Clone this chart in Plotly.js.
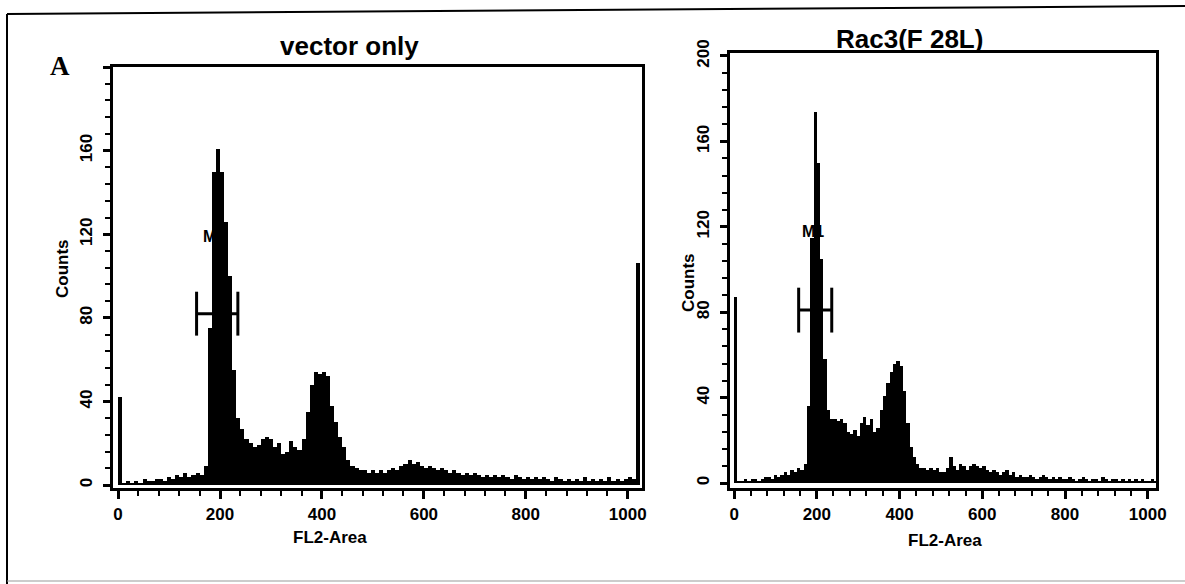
<!DOCTYPE html>
<html>
<head>
<meta charset="utf-8">
<script src="https://cdn.plot.ly/plotly-3.0.1.min.js"></script>
<style>html,body{margin:0;padding:0;background:#fff;}#chart{width:1185px;height:584px;}</style>
</head>
<body>
<div id="chart"></div>
<script>
// FL2-Area channel histograms, 8-channel bins (bin i covers channels 8i..8i+7)
const binWidth = 8;
const vectorOnlyCounts = [
  42, 1, 2, 1, 2, 1, 3, 2, 2, 3, 3, 2, 4, 3, 5, 4, 6, 4, 5, 6,
  5, 9, 75, 150, 161, 150, 126, 100, 55, 32, 27, 22, 20, 18, 19, 22,
  23, 22, 18, 20, 15, 16, 21, 18, 17, 22, 35, 48, 54, 53, 54, 52,
  38, 30, 23, 18, 12, 9, 8, 7, 7, 6, 7, 6, 7, 6, 7, 8, 7, 9,
  10, 12, 10, 11, 9, 8, 9, 8, 7, 8, 7, 6, 7, 6, 5, 6, 5, 6,
  5, 4, 5, 4, 5, 4, 5, 4, 3, 5, 4, 3, 4, 3, 4, 3, 4, 3, 2, 4,
  3, 2, 3, 2, 3, 2, 4, 2, 3, 2, 3, 2, 4, 2, 3, 2, 3, 4, 3, 106
];
const rac3Counts = [
  87, 1, 1, 2, 1, 2, 2, 1, 2, 3, 3, 2, 4, 3, 4, 5, 4, 6, 5, 7,
  6, 9, 36, 115, 174, 150, 105, 58, 34, 30, 30, 29, 30, 28, 24, 23,
  25, 22, 28, 31, 27, 30, 24, 26, 34, 41, 47, 52, 56, 57, 55, 43,
  28, 17, 12, 9, 7, 7, 6, 7, 6, 7, 5, 5, 7, 12, 8, 6, 9, 8,
  6, 8, 9, 8, 7, 8, 6, 5, 6, 5, 4, 5, 6, 4, 5, 3, 4, 3,
  3, 4, 3, 2, 3, 4, 3, 2, 3, 2, 3, 2, 2, 3, 2, 1, 2, 3, 2, 1,
  2, 2, 1, 3, 2, 1, 2, 2, 1, 2, 1, 2, 1, 2, 1, 2, 1, 1, 2, 1
];
const panelTitles = ["vector only", "Rac3(F 28L)"];
const xTickVals = [0, 200, 400, 600, 800, 1000];
const leftYTickVals = [0, 40, 80, 120, 160, 200];
const leftYTickText = ["0", "40", "80", "120", "160", ""];
const rightYTickVals = [0, 40, 80, 120, 160, 200];
const xLabel = "FL2-Area";
const yLabel = "Counts";
const markerLabel = "M1";
const vectorMarkerRange = [154, 235];
const vectorMarkerLevel = 82;
const rac3MarkerRange = [156, 236];
const rac3MarkerLevel = 81;

const W = 1185, H = 584;
const px = v => v / W;
const py = v => 1 - v / H;

const binCenters = arr => arr.map((_, i) => i * binWidth + binWidth / 2);

const traces = [
  {type: 'bar', x: binCenters(vectorOnlyCounts), y: vectorOnlyCounts, width: binWidth,
   marker: {color: '#000', line: {width: 0}}, xaxis: 'x', yaxis: 'y', hoverinfo: 'skip'},
  {type: 'bar', x: binCenters(rac3Counts), y: rac3Counts, width: binWidth,
   marker: {color: '#000', line: {width: 0}}, xaxis: 'x2', yaxis: 'y2', hoverinfo: 'skip'}
];

const tickFont = {family: 'Liberation Sans, Arial, sans-serif', size: 17, color: '#000', weight: 'bold'};
const xAxisBase = {
  tickmode: 'array', tickvals: xTickVals, ticks: 'outside', ticklen: 8, tickwidth: 3, tickcolor: '#000',
  showline: true, linewidth: 3, linecolor: '#000', mirror: true, showgrid: false, zeroline: false,
  tickfont: tickFont, ticklabelstandoff: 1,
  minor: {dtick: 40, tick0: 0, ticks: 'outside', ticklen: 5, tickwidth: 2, tickcolor: '#000', showgrid: false}
};
const yAxisBase = {
  ticks: 'outside', ticklen: 7, tickwidth: 3, tickcolor: '#000', tickangle: -90,
  showline: true, linewidth: 3, linecolor: '#000', mirror: true, showgrid: false, zeroline: false,
  tickfont: tickFont, ticklabelstandoff: 4,
  minor: {dtick: 8, tick0: 0, ticks: 'outside', ticklen: 5, tickwidth: 2, tickcolor: '#000', showgrid: false}
};

function markerShapes(xr, yr, lvl, range) {
  const s = {xref: xr, yref: yr, type: 'line', line: {color: '#000', width: 3}};
  return [
    Object.assign({}, s, {x0: range[0], x1: range[1], y0: lvl, y1: lvl}),
    Object.assign({}, s, {x0: range[0], x1: range[0], y0: lvl - 10.5, y1: lvl + 10.5}),
    Object.assign({}, s, {x0: range[1], x1: range[1], y0: lvl - 10.5, y1: lvl + 10.5})
  ];
}

const fam = 'Liberation Sans, Arial, sans-serif';
const labelFont = {family: fam, size: 17, color: '#000', weight: 'bold'};
const titleFont = {family: fam, size: 26, color: '#000', weight: 'bold'};
const m1Font = {family: fam, size: 16, color: '#000', weight: 'bold'};
const ann = (o) => Object.assign({showarrow: false, xanchor: 'center', yanchor: 'middle'}, o);

const layout = {
  width: W, height: H, margin: {l: 0, r: 0, t: 0, b: 0},
  paper_bgcolor: '#fff', plot_bgcolor: '#fff', showlegend: false, bargap: 0,
  xaxis: Object.assign({}, xAxisBase, {domain: [px(113), px(642)], range: [-10, 1028], anchor: 'y'}),
  yaxis: Object.assign({}, yAxisBase, {domain: [py(488), py(67)], range: [-1.4, 200], anchor: 'x',
    tickmode: 'array', tickvals: leftYTickVals, ticktext: leftYTickText}),
  xaxis2: Object.assign({}, xAxisBase, {domain: [px(730), px(1156)], range: [-10, 1020], anchor: 'y2'}),
  yaxis2: Object.assign({}, yAxisBase, {domain: [py(488), py(53)], range: [-2.3, 201.4], anchor: 'x2',
    tickmode: 'array', tickvals: rightYTickVals}),
  shapes: [
    {type: 'line', xref: 'paper', yref: 'paper', x0: px(7), x1: px(7), y0: py(14), y1: py(584), line: {color: '#000', width: 2}},
    {type: 'line', xref: 'paper', yref: 'paper', x0: px(7), x1: px(1185), y0: py(14), y1: py(6), line: {color: '#000', width: 2}},
    {type: 'line', xref: 'paper', yref: 'paper', x0: px(7), x1: px(1185), y0: py(581), y1: py(581), line: {color: '#999', width: 1}}
  ].concat(markerShapes('x', 'y', vectorMarkerLevel, vectorMarkerRange))
   .concat(markerShapes('x2', 'y2', rac3MarkerLevel, rac3MarkerRange)),
  annotations: [
    ann({xref: 'paper', yref: 'paper', x: px(60), y: py(66), text: 'A',
     font: {family: 'Liberation Serif, Times New Roman, serif', size: 27, color: '#000', weight: 'bold'}}),
    ann({xref: 'paper', yref: 'paper', x: px(349), y: py(46), text: panelTitles[0], font: titleFont}),
    ann({xref: 'paper', yref: 'paper', x: px(910), y: py(39), text: panelTitles[1], font: titleFont}),
    ann({xref: 'paper', yref: 'paper', x: px(330), y: py(537), text: xLabel, font: labelFont}),
    ann({xref: 'paper', yref: 'paper', x: px(945), y: py(540), text: xLabel, font: labelFont}),
    ann({xref: 'paper', yref: 'paper', x: px(62), y: py(268), text: yLabel, textangle: -90, font: labelFont}),
    ann({xref: 'paper', yref: 'paper', x: px(688), y: py(282), text: yLabel, textangle: -90, font: labelFont}),
    ann({xref: 'x', yref: 'y', x: 188, y: 119, text: markerLabel, font: m1Font}),
    ann({xref: 'x2', yref: 'y2', x: 190, y: 118, text: markerLabel, font: m1Font})
  ]
};

Plotly.newPlot('chart', traces, layout, {displayModeBar: false, staticPlot: true});
</script>
</body>
</html>
